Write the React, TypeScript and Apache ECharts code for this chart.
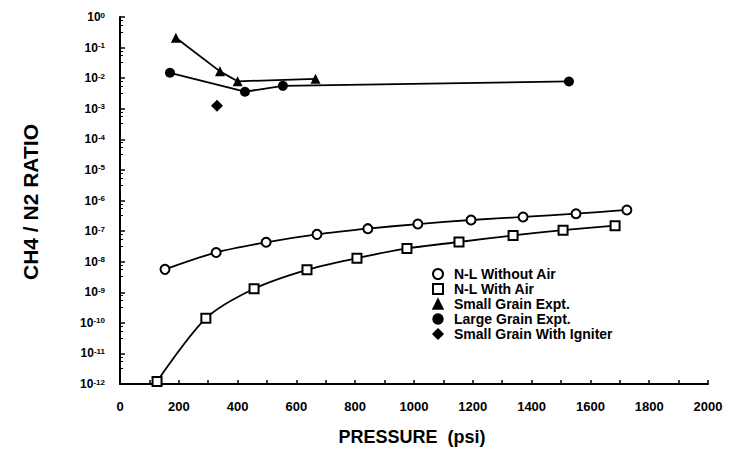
import React, { useEffect, useRef } from "react";
import * as echarts from "echarts";

const nlWithoutAirP = [153, 327, 497, 670, 843, 1013, 1194, 1371, 1551, 1724];
const nlWithoutAirR = [5.6e-9, 2.0e-8, 4.3e-8, 7.8e-8, 1.2e-7, 1.7e-7, 2.3e-7, 2.9e-7, 3.7e-7, 4.9e-7];
const nlWithAirP = [126, 292, 456, 636, 806, 976, 1153, 1337, 1507, 1684];
const nlWithAirR = [1.2e-12, 1.4e-10, 1.3e-9, 5.4e-9, 1.3e-8, 2.7e-8, 4.4e-8, 7.2e-8, 1.07e-7, 1.5e-7];
const smallGrainP = [190, 340, 400, 665];
const smallGrainR = [0.21, 1.67e-2, 7.9e-3, 9.5e-3];
const largeGrainP = [170, 425, 554, 1527];
const largeGrainR = [1.5e-2, 3.6e-3, 5.6e-3, 7.8e-3];
const igniterP = [330];
const igniterR = [1.26e-3];

const seriesNames = [
  "N-L Without Air",
  "N-L With Air",
  "Small Grain Expt.",
  "Large Grain Expt.",
  "Small Grain With Igniter",
];
const legendIcons = ["emptyCircle", "emptyRect", "triangle", "circle", "diamond"];

const xLabel = "PRESSURE  (psi)";
const yLabel = "CH4 / N2 RATIO";

const FONT = "Liberation Sans, Arial, sans-serif";

function zip(xs: number[], ys: number[]) {
  return xs.map((x, i) => [x, ys[i]]);
}

export default function App() {
  const ref = useRef<HTMLDivElement>(null);
  useEffect(() => {
    if (!ref.current) return;
    const chart = echarts.init(ref.current, undefined, { renderer: "svg" });
    const black = "#000";
    const lineStyle = { color: black, width: 1.8 };
    chart.setOption({
      animation: false,
      backgroundColor: "#fff",
      grid: { left: 120, right: 27, top: 17, bottom: 71, containLabel: false },
      legend: {
        orient: "vertical",
        left: 432,
        top: 267,
        padding: 0,
        itemWidth: 10,
        itemHeight: 10,
        itemGap: 1,
        data: seriesNames.map((n, i) => ({ name: n, icon: legendIcons[i] })),
        textStyle: {
          fontFamily: FONT,
          fontWeight: "bold",
          fontSize: 14,
          lineHeight: 14,
          color: black,
          padding: [0, 0, 0, 6],
        },
        itemStyle: { color: black, borderColor: black, borderWidth: 1.5 },
      },
      xAxis: {
        type: "value",
        min: 0,
        max: 2000,
        interval: 200,
        axisLine: { show: true, lineStyle: { color: black, width: 2 } },
        axisTick: { show: true, inside: true, length: 4, lineStyle: { color: black, width: 1.5 } },
        minorTick: { show: true, splitNumber: 2, length: 4, lineStyle: { color: black, width: 1.5 } },
        splitLine: { show: false },
        axisLabel: {
          margin: 16,
          fontFamily: FONT,
          fontWeight: "bold",
          fontSize: 13,
          color: black,
          formatter: (v: number) => String(v),
        },
      },
      yAxis: {
        type: "log",
        logBase: 10,
        min: 1e-12,
        max: 1,
        interval: 1,
        splitNumber: 12,
        axisLine: { show: true, lineStyle: { color: black, width: 2 } },
        axisTick: { show: true, inside: true, length: 5, lineStyle: { color: black, width: 1.5 } },
        minorTick: { show: true, splitNumber: 4, length: 3, lineStyle: { color: black, width: 1 } },
        splitLine: { show: false },
        axisLabel: {
          margin: 15,
          color: black,
          formatter: (v: number) => {
            const e = Math.round(Math.log10(v));
            return "{b|10}{s|" + e + "}";
          },
          rich: {
            b: { fontFamily: FONT, fontWeight: "bold", fontSize: 12, color: black, lineHeight: 14 },
            s: {
              fontFamily: FONT,
              fontWeight: "bold",
              fontSize: 8,
              color: black,
              lineHeight: 14,
              padding: [0, 0, 4, 0],
            },
          },
        },
      },
      graphic: [
        {
          type: "text",
          x: 30,
          y: 202,
          rotation: Math.PI / 2,
          style: {
            text: yLabel,
            fontFamily: FONT,
            fontWeight: "bold",
            fontSize: 21,
            fill: black,
            textAlign: "center",
            textVerticalAlign: "middle",
          },
        },
        {
          type: "text",
          x: 412,
          y: 437,
          style: {
            text: xLabel,
            fontFamily: FONT,
            fontWeight: "bold",
            fontSize: 18,
            fill: black,
            textAlign: "center",
            textVerticalAlign: "middle",
          },
        },
      ],
      series: [
        {
          name: seriesNames[0],
          type: "line",
          smooth: 0.3,
          clip: false,
          data: zip(nlWithoutAirP, nlWithoutAirR),
          symbol: "emptyCircle",
          symbolSize: 9,
          lineStyle,
          itemStyle: { color: black, borderColor: black, borderWidth: 1.8 },
        },
        {
          name: seriesNames[1],
          type: "line",
          smooth: 0.3,
          clip: false,
          data: zip(nlWithAirP, nlWithAirR),
          symbol: "emptyRect",
          symbolSize: 9,
          lineStyle,
          itemStyle: { color: black, borderColor: black, borderWidth: 1.8 },
        },
        {
          name: seriesNames[2],
          type: "line",
          clip: false,
          data: zip(smallGrainP, smallGrainR),
          symbol: "triangle",
          symbolSize: 10,
          lineStyle,
          itemStyle: { color: black },
        },
        {
          name: seriesNames[3],
          type: "line",
          clip: false,
          data: zip(largeGrainP, largeGrainR),
          symbol: "circle",
          symbolSize: 10,
          lineStyle,
          itemStyle: { color: black },
        },
        {
          name: seriesNames[4],
          type: "scatter",
          clip: false,
          data: zip(igniterP, igniterR),
          symbol: "diamond",
          symbolSize: 12,
          itemStyle: { color: black, opacity: 1 },
        },
      ],
    });
    return () => chart.dispose();
  }, []);
  return (
    <div
      ref={ref}
      style={{ position: "fixed", left: 0, top: 0, width: 735, height: 455, background: "#fff" }}
    />
  );
}
